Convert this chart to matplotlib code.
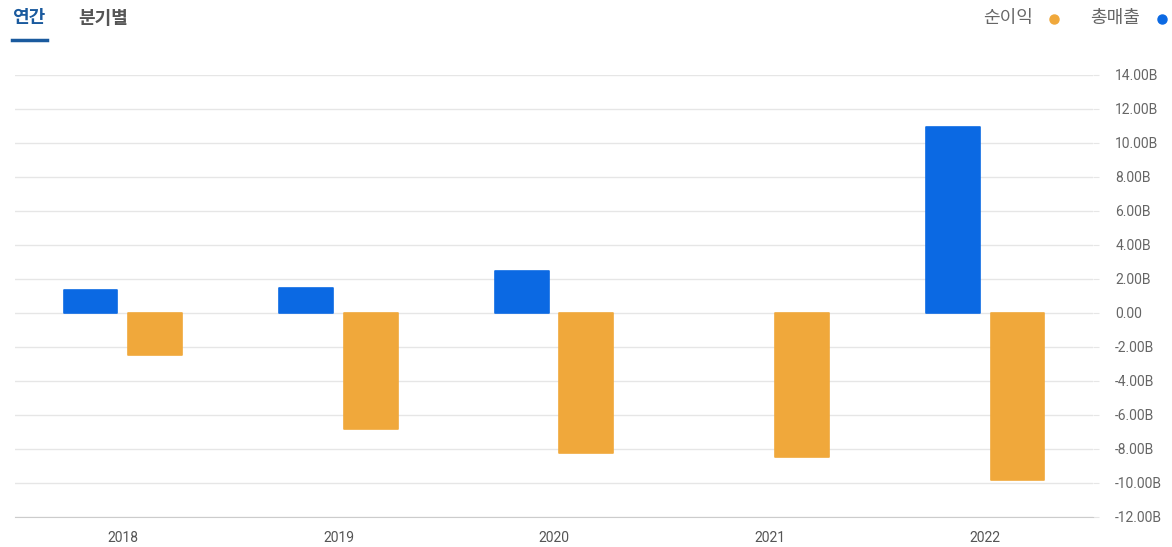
import numpy as np
import matplotlib.pyplot as plt

plt.rcParams['font.family'] = ['Noto Sans CJK KR', 'DejaVu Sans']

years = ['2018', '2019', '2020', '2021', '2022']
revenue = [1.35, 1.5, 2.45, 0.0, 10.95]        # 총매출, B
net_income = [-2.45, -6.85, -8.25, -8.45, -9.8]  # 순이익, B
yticks = np.arange(-12, 15, 2)

blue = '#0B69E3'
orange = '#F0A83B'

fig = plt.figure(figsize=(11.72, 5.47), dpi=100)
ax = fig.add_axes([15 / 1172, 1 - 517 / 547, 1078 / 1172, 442 / 547])

x = np.arange(len(years))
w = 0.25
for xi, v in zip(x, revenue):
    if v != 0:
        ax.bar(xi - 0.15, v, w, color=blue, edgecolor=blue, linewidth=1.2, joinstyle='round')
for xi, v in zip(x, net_income):
    ax.bar(xi + 0.15, v, w, color=orange, edgecolor=orange, linewidth=1.2, joinstyle='round')

ax.set_xlim(-0.5, 4.5)
ax.set_ylim(-12, 14)
ax.set_xticks(x)
ax.set_xticklabels(years, fontsize=10, color='#555555', family='Roboto')
ax.set_yticks(yticks)
ax.set_yticklabels(['0.00' if t == 0 else f'{t:.2f}B' for t in yticks], fontsize=10, color='#666666', family='Roboto')
ax.yaxis.tick_right()
ax.tick_params(axis='y', length=4, color='#e6e6e6', pad=12)
ax.tick_params(axis='x', length=0, pad=10)
ax.grid(axis='y', color='#e6e6e6', linewidth=1)
ax.set_axisbelow(True)
for s in ['top', 'right', 'left']:
    ax.spines[s].set_visible(False)
ax.spines['bottom'].set_color('#cccccc')

# tabs
fig.text(12 / 1172, 1 - 18 / 547, '연간', fontsize=13, fontweight='bold', color='#1a5a9e', va='center')
fig.text(78 / 1172, 1 - 18 / 547, '분기별', fontsize=13, fontweight='bold', color='#555555', va='center')
fig.add_artist(plt.Line2D([12 / 1172, 47 / 1172], [1 - 40 / 547] * 2, color='#1a5a9e', linewidth=2.5))

# legend
fig.text(983 / 1172, 1 - 18 / 547, '순이익', fontsize=13, color='#666666', va='center')
fig.add_artist(plt.Line2D([1054 / 1172], [1 - 19 / 547], marker='o', markersize=6.5, color=orange, linestyle=''))
fig.text(1090 / 1172, 1 - 18 / 547, '총매출', fontsize=13, color='#666666', va='center')
fig.add_artist(plt.Line2D([1162 / 1172], [1 - 19 / 547], marker='o', markersize=6.5, color=blue, linestyle=''))

fig.savefig('out.png', dpi=100)
